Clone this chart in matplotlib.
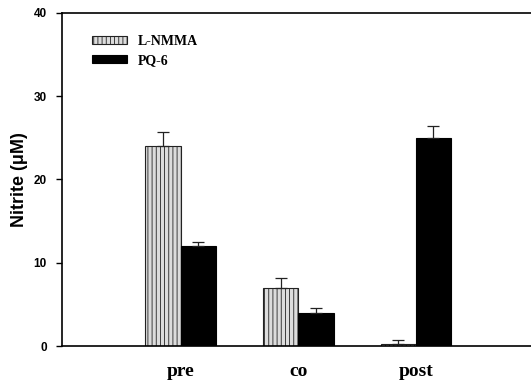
import matplotlib
matplotlib.use("Agg")
import matplotlib.pyplot as plt
import numpy as np

groups = ["pre", "co", "post"]
lnmma = [24.0, 7.0, 0.3]
lnmma_err = [1.7, 1.2, 0.4]
pq6 = [12.0, 4.0, 25.0]
pq6_err = [0.5, 0.6, 1.4]

plt.rcParams['hatch.color'] = '#6a6a6a'
plt.rcParams['hatch.linewidth'] = 0.6

fig = plt.figure(figsize=(5.31, 3.83), dpi=100)
ax = fig.add_axes([0.1168, 0.0966, 0.8832, 0.8695])

x = np.arange(len(groups))
w = 0.30
zeros = [0] * 3
ax.bar(x - w / 2, lnmma, w, color='#dcdcdc', edgecolor='#222222', linewidth=0.8,
       hatch='||||', label='L-NMMA',
       yerr=[zeros, lnmma_err], error_kw=dict(ecolor='#222222', elinewidth=0.9, capsize=4, capthick=0.9))
ax.bar(x + w / 2, pq6, w, color='black', edgecolor='black', linewidth=0.8,
       label='PQ-6',
       yerr=[zeros, pq6_err], error_kw=dict(ecolor='#222222', elinewidth=0.9, capsize=4, capthick=0.9))

ax.set_xlim(-1.01, 2.98)
ax.set_ylim(0, 40)
ax.set_yticks([0, 10, 20, 30, 40])
ax.set_xticks(x)
ax.set_xticklabels(groups, family='Liberation Serif', fontweight='bold', fontsize=14)
for lab in ax.get_yticklabels():
    lab.set_family('Liberation Sans')
    lab.set_fontweight('bold')
    lab.set_fontsize(8.5)
ax.tick_params(axis='x', length=0, pad=12)
ax.tick_params(axis='y', direction='out', length=4, width=1, pad=7)
ax.spines['right'].set_visible(False)
for s in ['left', 'bottom', 'top']:
    ax.spines[s].set_linewidth(1.2)
ax.set_ylabel('Nitrite (\u03bcM)', family='Liberation Sans', fontweight='bold', fontsize=13, labelpad=4)

ax.legend(loc='upper left', bbox_to_anchor=(0.064, 0.933), frameon=False, borderpad=0,
          borderaxespad=0,
          prop={'family': 'Liberation Serif', 'weight': 'bold', 'size': 10},
          handlelength=2.5, handleheight=0.5, handletextpad=0.8, labelspacing=0.4)

fig.savefig('out.png', dpi=100)
